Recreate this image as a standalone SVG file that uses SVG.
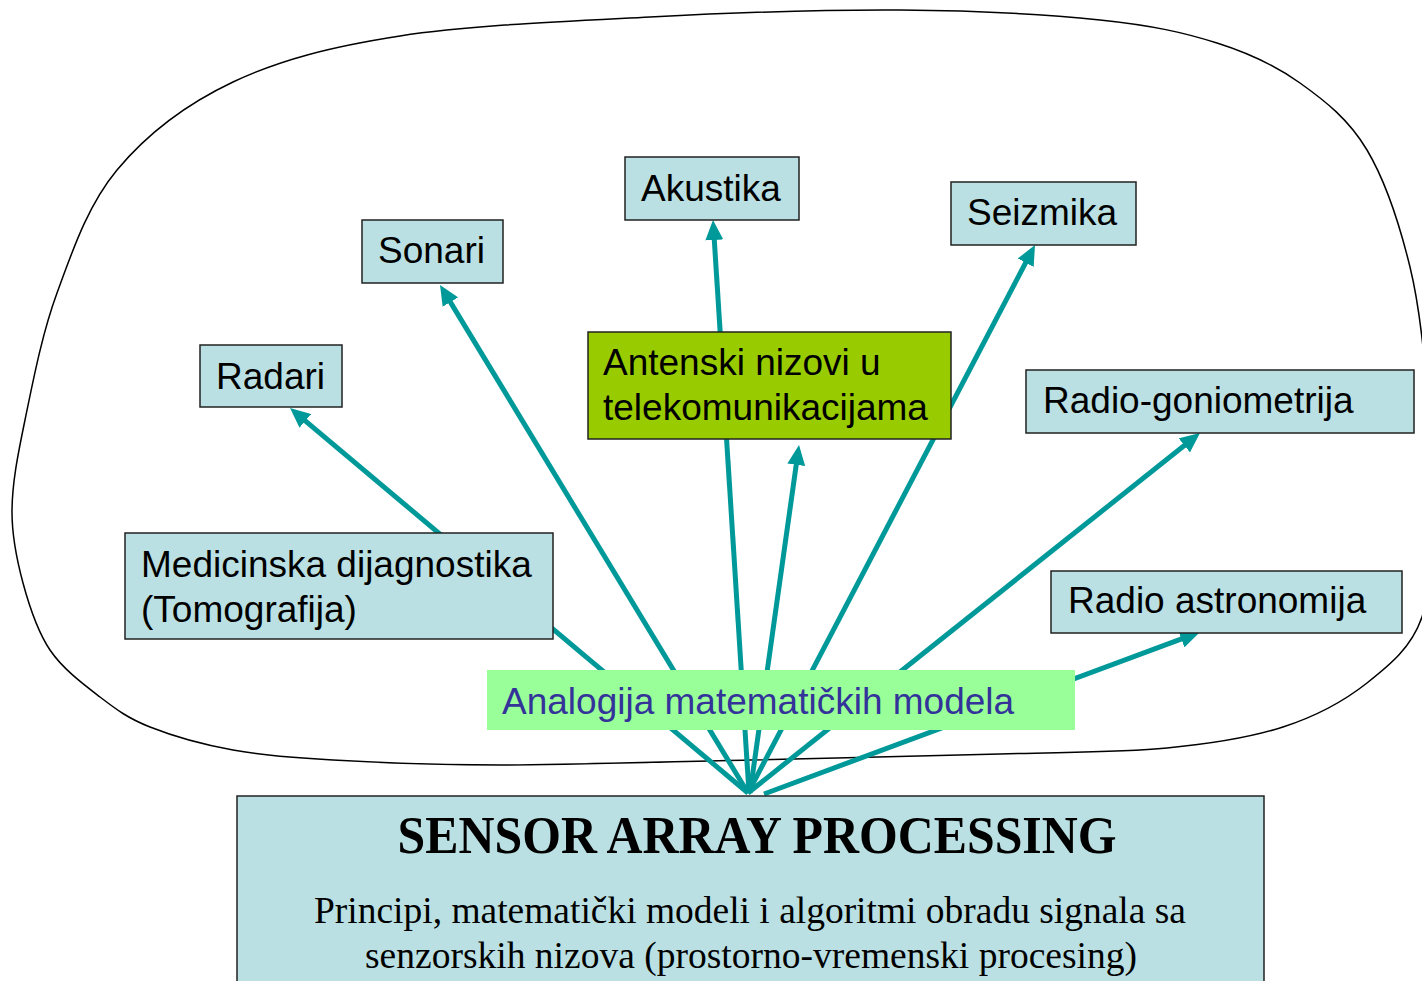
<svg xmlns="http://www.w3.org/2000/svg" width="1422" height="981" viewBox="0 0 1422 981">
<style>
.box{fill:#BBE0E3;stroke:#222;stroke-width:1.5}
.lbl{font-family:"Liberation Sans",Arial,sans-serif;font-size:37px;fill:#000}
.conn{stroke:#009999;stroke-width:5;fill:none}
.serif{font-family:"Liberation Serif","Times New Roman",serif;fill:#000}
</style>
<defs>
<marker id="ah" markerUnits="userSpaceOnUse" markerWidth="20" markerHeight="18" refX="14" refY="9" orient="auto" viewBox="0 0 20 18">
<path d="M0,0 L20,9 L0,18 z" fill="#009999"/>
</marker>
</defs>
<rect width="1422" height="981" fill="#fff"/>
<path id="blob" d="M12,510 C12.3,482.8 17.5,456.2 25,420 C32.5,383.8 41.7,334.7 57,293 C72.3,251.3 87.7,205.2 117,170 C146.3,134.8 185.8,104.3 233,82 C280.2,59.7 330.5,46.8 400,36 C469.5,25.2 566.7,21.3 650,17 C733.3,12.7 825,9.5 900,10 C975,10.5 1047.2,14.5 1100,20 C1152.8,25.5 1183.7,32.5 1217,43 C1250.3,53.5 1275,65.2 1300,83 C1325,100.8 1348.7,119.3 1367,150 C1385.3,180.7 1399.8,225.3 1410,267 C1420.2,308.7 1424.7,361.2 1428,400 C1431.3,438.8 1431,463.8 1430,500 C1429,536.2 1432.5,586.5 1422,617 C1411.5,647.5 1390.2,664.7 1367,683 C1343.8,701.3 1316.3,716.2 1283,727 C1249.7,737.8 1214.2,743.5 1167,748 C1119.8,752.5 1069.5,752 1000,754 C930.5,756 833.3,758.2 750,760 C666.7,761.8 569.5,765 500,765 C430.5,765 377.5,762.5 333,760 C288.5,757.5 263.5,755.5 233,750 C202.5,744.5 172.2,735.8 150,727 C127.8,718.2 116.7,709.8 100,697 C83.3,684.2 62.8,669 50,650 C37.2,631 29.3,606.3 23,583 C16.7,559.7 11.7,537.2 12,510 Z" fill="none" stroke="#000" stroke-width="1.5"/>
<g id="connectors">
<line class="conn" x1="748" y1="793" x2="294.6" y2="411.9" marker-end="url(#ah)"/>
<line class="conn" x1="748" y1="793" x2="443.1" y2="290.1" marker-end="url(#ah)"/>
<line class="conn" x1="749" y1="793" x2="726" y2="430"/>
<line class="conn" x1="750" y1="793" x2="798.2" y2="450.9" marker-end="url(#ah)"/>
<line class="conn" x1="748" y1="793" x2="1032.2" y2="250.3" marker-end="url(#ah)"/>
<line class="conn" x1="748" y1="793" x2="1195.3" y2="436.7" marker-end="url(#ah)"/>
<line class="conn" x1="764" y1="794" x2="1194.4" y2="634.1" marker-end="url(#ah)"/>
<line class="conn" x1="721" y1="345" x2="713.4" y2="226" marker-end="url(#ah)"/>
</g>
<g id="radari">
<rect class="box" x="200" y="345" width="142" height="62"/>
<text class="lbl" x="216" y="389">Radari</text>
</g>
<g id="sonari">
<rect class="box" x="362" y="220" width="141" height="63"/>
<text class="lbl" x="378" y="263">Sonari</text>
</g>
<g id="akustika">
<rect class="box" x="625" y="157" width="174" height="63"/>
<text class="lbl" x="641" y="201">Akustika</text>
</g>
<g id="seizmika">
<rect class="box" x="951" y="182" width="185" height="63"/>
<text class="lbl" x="967" y="225">Seizmika</text>
</g>
<g id="antenski">
<rect x="588" y="332" width="363" height="107" fill="#99CC00" stroke="#222" stroke-width="1.5"/>
<text class="lbl" x="603" y="375">Antenski nizovi u</text>
<text class="lbl" x="603" y="420">telekomunikacijama</text>
</g>
<g id="radiogoniometrija">
<rect class="box" x="1026" y="370" width="388" height="63"/>
<text class="lbl" x="1043" y="413">Radio-goniometrija</text>
</g>
<g id="radioastronomija">
<rect class="box" x="1051" y="571" width="351" height="62"/>
<text class="lbl" x="1068" y="613">Radio astronomija</text>
</g>
<g id="medicinska">
<rect class="box" x="125" y="533" width="428" height="106"/>
<text class="lbl" x="141" y="577">Medicinska dijagnostika</text>
<text class="lbl" x="141" y="622">(Tomografija)</text>
</g>
<g id="analogija">
<rect x="487" y="670" width="588" height="60" fill="#99FF99"/>
<text class="lbl" x="502" y="714" style="fill:#333399">Analogija matematičkih modela</text>
</g>
<g id="sensor">
<rect class="box" x="237" y="796" width="1027" height="200"/>
<text class="serif" x="757" y="853" font-size="52" font-weight="bold" text-anchor="middle" textLength="719" lengthAdjust="spacingAndGlyphs">SENSOR ARRAY PROCESSING</text>
<text class="serif" x="750" y="923" font-size="37" text-anchor="middle" textLength="872" lengthAdjust="spacingAndGlyphs">Principi, matematički modeli i algoritmi obradu signala sa</text>
<text class="serif" x="751" y="968" font-size="37" text-anchor="middle" textLength="772" lengthAdjust="spacingAndGlyphs">senzorskih nizova (prostorno-vremenski procesing)</text>
</g>
</svg>
